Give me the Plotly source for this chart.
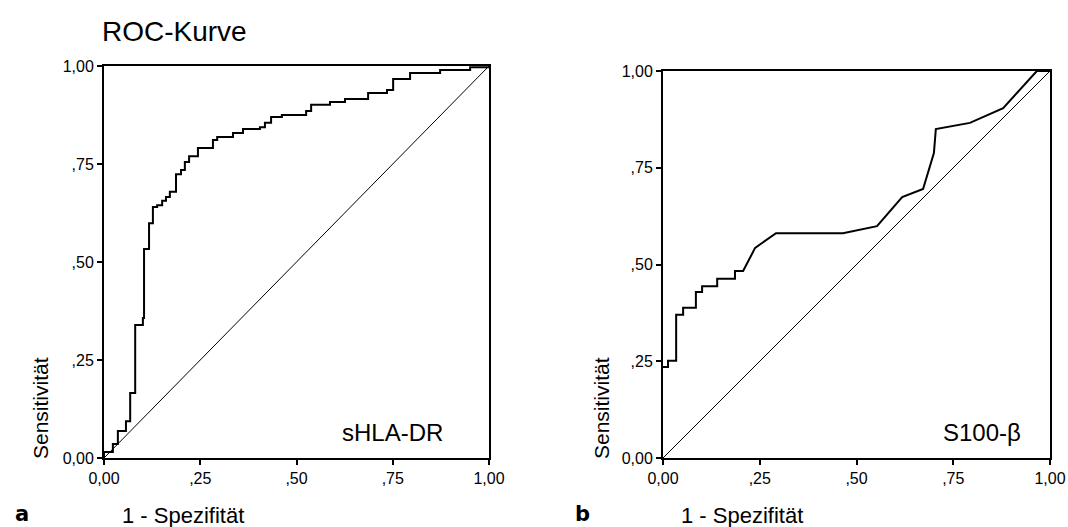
import plotly.graph_objects as go

# sHLA-DR ROC curve (step points: x where step occurs, new sensitivity level)
hla_fpr = [0.0, 0.0, 0.023, 0.036, 0.057, 0.068, 0.081, 0.101, 0.104, 0.117, 0.127,
           0.138, 0.151, 0.161, 0.171, 0.187, 0.200, 0.210, 0.221, 0.244, 0.283,
           0.294, 0.335, 0.361, 0.405, 0.418, 0.434, 0.462, 0.525, 0.538, 0.587,
           0.626, 0.686, 0.735, 0.751, 0.795, 0.873, 0.951, 1.0]
hla_tpr = [0.0, 0.015, 0.036, 0.069, 0.094, 0.166, 0.339, 0.357, 0.533, 0.599, 0.640,
           0.645, 0.656, 0.666, 0.679, 0.724, 0.735, 0.755, 0.770, 0.791, 0.811,
           0.819, 0.829, 0.839, 0.844, 0.855, 0.870, 0.875, 0.885, 0.901, 0.908,
           0.916, 0.931, 0.939, 0.967, 0.982, 0.990, 0.997, 1.0]

# S100-beta ROC curve vertices
s100_fpr = [0.0, 0.013, 0.013, 0.034, 0.034, 0.052, 0.052, 0.085, 0.085, 0.101, 0.101,
            0.140, 0.140, 0.186, 0.186, 0.207, 0.238, 0.292, 0.465, 0.553, 0.618,
            0.672, 0.700, 0.705, 0.793, 0.879, 0.966, 1.0]
s100_tpr = [0.235, 0.235, 0.251, 0.251, 0.370, 0.370, 0.388, 0.388, 0.429, 0.429, 0.444,
            0.444, 0.463, 0.463, 0.483, 0.483, 0.543, 0.581, 0.581, 0.599, 0.674,
            0.695, 0.788, 0.850, 0.866, 0.904, 1.0, 1.0]

diag = [0.0, 1.0]
tick_vals = [0, 0.25, 0.5, 0.75, 1.0]
tick_text = ["0,00", ",25", ",50", ",75", "1,00"]

FONT = "Liberation Sans, Arial, sans-serif"

fig = go.Figure()
fig.add_trace(go.Scatter(x=hla_fpr, y=hla_tpr, mode="lines", line=dict(color="black", width=2, shape="hv"),
                         xaxis="x", yaxis="y", showlegend=False))
fig.add_trace(go.Scatter(x=diag, y=diag, mode="lines", line=dict(color="black", width=1),
                         xaxis="x", yaxis="y", showlegend=False))
fig.add_trace(go.Scatter(x=s100_fpr, y=s100_tpr, mode="lines", line=dict(color="black", width=2),
                         xaxis="x2", yaxis="y2", showlegend=False))
fig.add_trace(go.Scatter(x=diag, y=diag, mode="lines", line=dict(color="black", width=1),
                         xaxis="x2", yaxis="y2", showlegend=False))

W, H = 1068, 527

def ax(domain, anchor):
    return dict(domain=domain, anchor=anchor, range=[0, 1], tickmode="array",
                tickvals=tick_vals, ticktext=tick_text, showgrid=False, zeroline=False,
                showline=True, linecolor="black", linewidth=2, mirror=True,
                ticks="outside", ticklen=5, tickwidth=1.5, tickcolor="black",
                automargin=False,
                tickfont=dict(family=FONT, size=16, color="black"))

fig.update_layout(
    width=W, height=H,
    margin=dict(l=0, r=0, t=0, b=0, pad=0),
    paper_bgcolor="white", plot_bgcolor="white",
    xaxis=ax([104 / W, 489 / W], "y"),
    yaxis=ax([(H - 458) / H, (H - 66) / H], "x"),
    xaxis2=ax([663 / W, 1050 / W], "y2"),
    yaxis2=ax([(H - 458) / H, (H - 71) / H], "x2"),
    font=dict(family=FONT, color="black"),
)

def ann(text, x, y, size, angle=0, bold=False, fam=FONT, xanchor="center"):
    fig.add_annotation(text=("<b>%s</b>" % text) if bold else text, x=x / W, y=1 - y / H,
                       xref="paper", yref="paper", showarrow=False, textangle=angle,
                       font=dict(family=fam, size=size, color="black"), xanchor=xanchor,
                       yanchor="middle")

ann("ROC-Kurve", 100, 31, 28, xanchor="left")
ann("Sensitivität", 40, 408, 21, angle=-90)
ann("Sensitivität", 601, 408, 21, angle=-90)
ann("1 - Spezifität", 183, 515, 22)
ann("1 - Spezifität", 742, 515, 22)
ann("a", 22, 514, 21, bold=True, fam="DejaVu Sans, sans-serif")
ann("b", 582, 514, 21, bold=True, fam="DejaVu Sans, sans-serif")
ann("sHLA-DR", 392, 432, 24)
ann("S100-β", 982, 432, 24)

fig.write_html("out.html", config={"displayModeBar": False},
               post_script="document.body.style.margin='0px';document.body.style.overflow='hidden';")
